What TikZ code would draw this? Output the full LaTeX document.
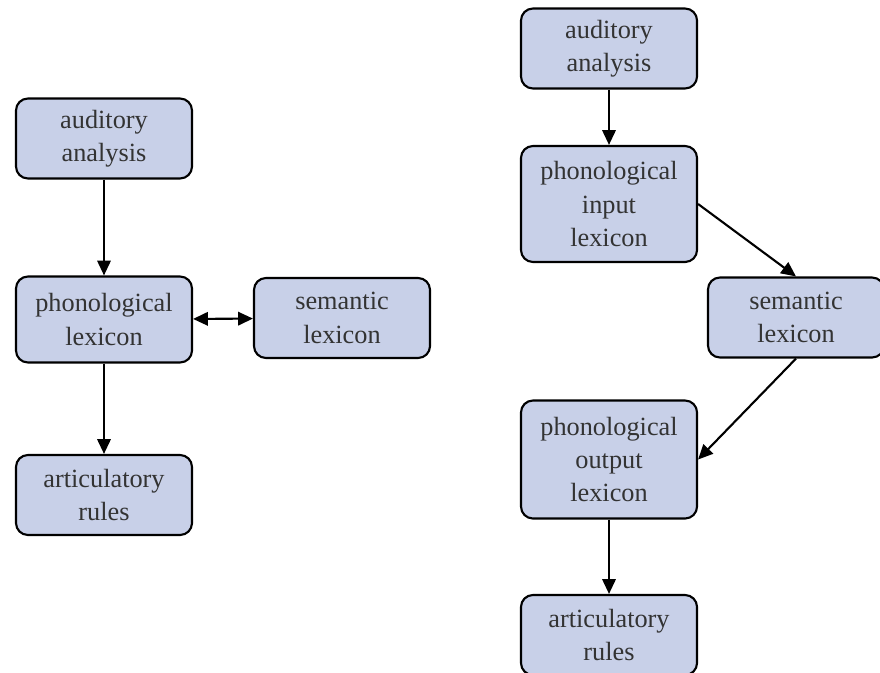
\documentclass[tikz,border=0pt]{standalone}
\usepackage{fontspec}
\setmainfont{Liberation Serif}
\usetikzlibrary{arrows.meta, positioning}
\definecolor{boxblue}{RGB}{200, 208, 232}
\definecolor{textgray}{RGB}{51, 51, 51}

\tikzset{
  stage/.style={draw=black, fill=boxblue, rounded corners=0.3cm, line width=1.5pt,
    minimum width=4.4cm, minimum height=2cm, align=center, text=textgray,
    font=\fontsize{18.7pt}{23.6pt}\selectfont},
  tip/.tip={Triangle[length=10.5pt, width=9.5pt]},
  flow/.style={line width=1.5pt, -tip},
}

\begin{document}
\begin{tikzpicture}[x=0.025cm, y=-0.025cm]
  \useasboundingbox (0,0) rectangle (880,672);

  % simple model
  \node[stage] (audL) at (104,138.5) {auditory\\analysis};
  \node[stage, minimum height=2.15cm] (phonL) at (104,319.5) {phonological\\lexicon};
  \node[stage] (semL) at (342,318) {semantic\\lexicon};
  \node[stage] (artL) at (104,495) {articulatory\\rules};

  \draw[flow] (audL) -- (phonL);
  \draw[flow, tip-tip] (phonL) -- (semL);
  \draw[flow] (phonL) -- (artL);

  % separate input and output lexicons
  \node[stage] (audR) at (609,48.5) {auditory\\analysis};
  \node[stage, minimum height=2.9cm] (pin) at (609,204) {phonological\\input\\lexicon};
  \node[stage] (semR) at (796,317.5) {semantic\\lexicon};
  \node[stage, minimum height=2.95cm] (pout) at (609,459.5) {phonological\\output\\lexicon};
  \node[stage] (artR) at (609,635) {articulatory\\rules};

  \draw[flow] (audR) -- (pin);
  \draw[flow] (pin.east) -- (semR.north);
  \draw[flow] (semR.south) -- (pout.east);
  \draw[flow] (pout) -- (artR);
\end{tikzpicture}
\end{document}
